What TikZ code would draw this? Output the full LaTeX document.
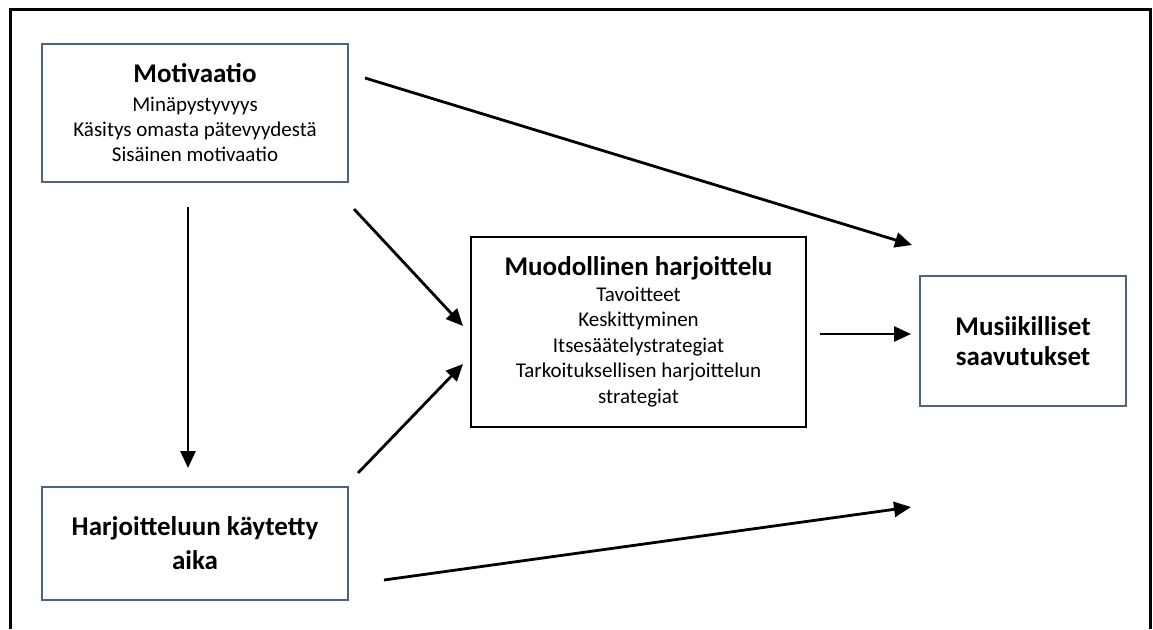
\documentclass[tikz,border=0pt]{standalone}
\usepackage{fontspec}
\setmainfont{Carlito}
\usetikzlibrary{arrows.meta,calc}
\definecolor{slate}{HTML}{4F6283}
\begin{document}
\begin{tikzpicture}[x=1pt,y=-1pt,
  box/.style={draw=slate,line width=2.4pt,align=center,inner sep=0pt,font=\fontsize{21}{25}\selectfont},
  arr/.style={line width=2.8pt,-{Triangle[length=17pt,width=15pt]}}]
\useasboundingbox (0,0) rectangle (1153,629);
\draw[line width=3pt] (10,629) -- (10,9.5) -- (1150.5,9.5) -- (1150.5,629);

\node[box, minimum width=306pt, minimum height=138pt, text depth=0pt] (mot) at (195,113)
  {{\fontsize{27}{27}\selectfont\bfseries Motivaatio}\\[4pt]Minäpystyvyys\\Käsitys omasta pätevyydestä\\Sisäinen motivaatio};
\node[box, minimum width=306pt, minimum height=113pt, font=\fontsize{27}{34}\selectfont\bfseries] (aika) at (195,543.5)
  {Harjoitteluun käytetty\\aika};
\node[box, draw=black, minimum width=335pt, minimum height=190pt, font=\fontsize{21}{25.5}\selectfont] (muod) at (638.5,332)
  {{\fontsize{27}{27}\selectfont\bfseries Muodollinen harjoittelu}\\Tavoitteet\\Keskittyminen\\Itsesäätelystrategiat\\Tarkoituksellisen harjoittelun\\strategiat};
\node[box, minimum width=206pt, minimum height=130pt, font=\fontsize{27}{30}\selectfont\bfseries] (mus) at (1023,341)
  {Musiikilliset\\saavutukset};

\coordinate (a1s) at (365,78);  \coordinate (a1e) at (912,245);
\coordinate (a2s) at (188,207); \coordinate (a2e) at (188,468);
\coordinate (a3s) at (354,209); \coordinate (a3e) at (463,326);
\coordinate (a4s) at (358,473); \coordinate (a4e) at (463,364);
\coordinate (a5s) at (820,334); \coordinate (a5e) at (911,334);
\coordinate (a6s) at (384,580); \coordinate (a6e) at (911,507);

\draw[arr] (a1s) -- (a1e);
\draw[arr] (a2s) -- (a2e);
\draw[arr] (a3s) -- (a3e);
\draw[arr] (a4s) -- (a4e);
\draw[arr] (a5s) -- (a5e);
\draw[arr] (a6s) -- (a6e);
\end{tikzpicture}
\end{document}
